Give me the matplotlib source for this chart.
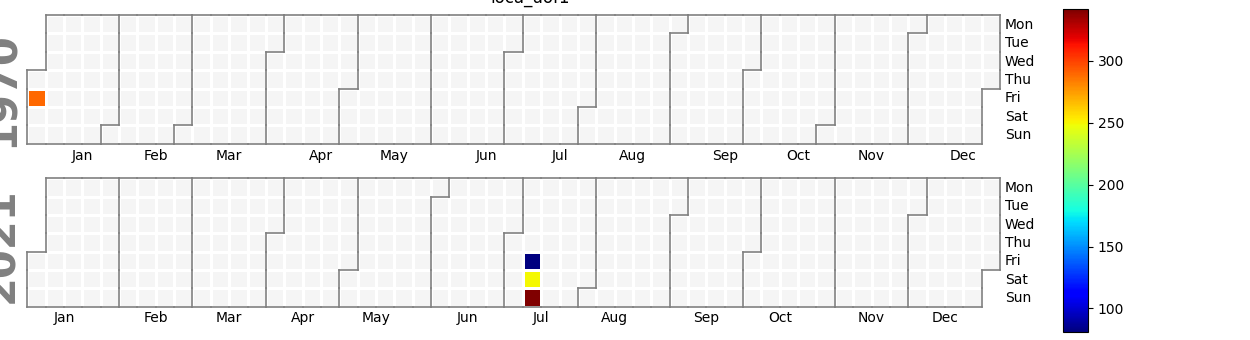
import datetime
import numpy as np
import matplotlib
matplotlib.use("Agg")
from matplotlib import pyplot as plt
from matplotlib.collections import LineCollection
from matplotlib.colors import Normalize, ListedColormap

# data
title = "loca_uof1"
years = [1970, 2021]
dates = ["1970-01-02", "2021-07-09", "2021-07-10", "2021-07-11"]
values = [290, 81, 250, 342]
day_labels = ["Mon", "Tue", "Wed", "Thu", "Fri", "Sat", "Sun"]

W, H = 1250, 340
fig = plt.figure(figsize=(W / 100, H / 100), dpi=100)

norm = Normalize(vmin=min(values), vmax=max(values))
cmap = plt.get_cmap("jet")
fill_cmap = ListedColormap(["whitesmoke"])

day_vals = {}
for d, v in zip(dates, values):
    day_vals[datetime.date.fromisoformat(d)] = v

# axes boxes in pixels (left, top, right, bottom)
boxes = [(27.3, 15, 1000, 143.7), (27.3, 178.2, 1000, 306.5)]
year_label_y = [89, 245]

for year, box, ly in zip(years, boxes, year_label_y):
    l, t, r, b = box
    ax = fig.add_axes([l / W, 1 - b / H, (r - l) / W, (b - t) / H])

    jan1 = datetime.date(year, 1, 1)
    start = jan1.weekday()
    ndays = (datetime.date(year + 1, 1, 1) - jan1).days
    ncols = (ndays + start - 1) // 7 + 1

    fill = np.full((7, ncols), np.nan)
    data = np.full((7, ncols), np.nan)
    month = np.zeros((7, ncols), dtype=int)
    for i in range(ndays):
        d = jan1 + datetime.timedelta(days=i)
        c = (i + start) // 7
        row = d.weekday()
        fill[row, c] = 1
        month[row, c] = d.month
        if d in day_vals:
            data[row, c] = day_vals[d]

    ax.pcolormesh(np.ma.masked_invalid(fill), cmap=fill_cmap,
                  edgecolors="white", linewidth=2.0)
    ax.pcolormesh(np.ma.masked_invalid(data), cmap=cmap, norm=norm,
                  edgecolors="white", linewidth=2.0)

    # month borders
    segs = []
    padded = np.zeros((9, ncols + 2), dtype=int)
    padded[1:8, 1:ncols + 1] = month
    for row in range(7):
        for c in range(ncols + 1):
            if padded[row + 1, c] != padded[row + 1, c + 1]:
                segs.append([(c, row), (c, row + 1)])
    for row in range(8):
        for c in range(ncols):
            if padded[row, c + 1] != padded[row + 1, c + 1]:
                segs.append([(c, row), (c + 1, row)])
    lc = LineCollection(segs, colors="gray", linewidths=1.2,
                        capstyle="projecting", zorder=3, clip_on=False)
    ax.add_collection(lc)

    ax.set_xlim(0, ncols)
    ax.set_ylim(7, 0)

    # month ticks at the week number of the 15th
    xt = [datetime.date(year, m, 15).isocalendar()[1] for m in range(1, 13)]
    ax.set_xticks(xt)
    ax.set_xticklabels([datetime.date(year, m, 1).strftime("%b") for m in range(1, 13)])
    ax.set_yticks(np.arange(7) + 0.45)
    ax.set_yticklabels(day_labels)
    ax.yaxis.tick_right()
    ax.tick_params(axis="both", length=0, labelsize=10)
    for s in ax.spines.values():
        s.set_visible(False)

    fig.text(1.5 / W, 1 - ly / H, str(year), rotation=90, fontsize=30,
             fontweight="bold", color="gray", ha="center", va="center")

fig.text(530 / W, 1 - 2.5 / H, title, fontsize=12, ha="center", va="baseline")

cax = fig.add_axes([1063 / W, 1 - 332 / H, 25 / W, 323 / H])
sm = plt.cm.ScalarMappable(norm=norm, cmap=cmap)
cb = fig.colorbar(sm, cax=cax)
cb.ax.tick_params(labelsize=10)

fig.savefig("out.png", dpi=100)
